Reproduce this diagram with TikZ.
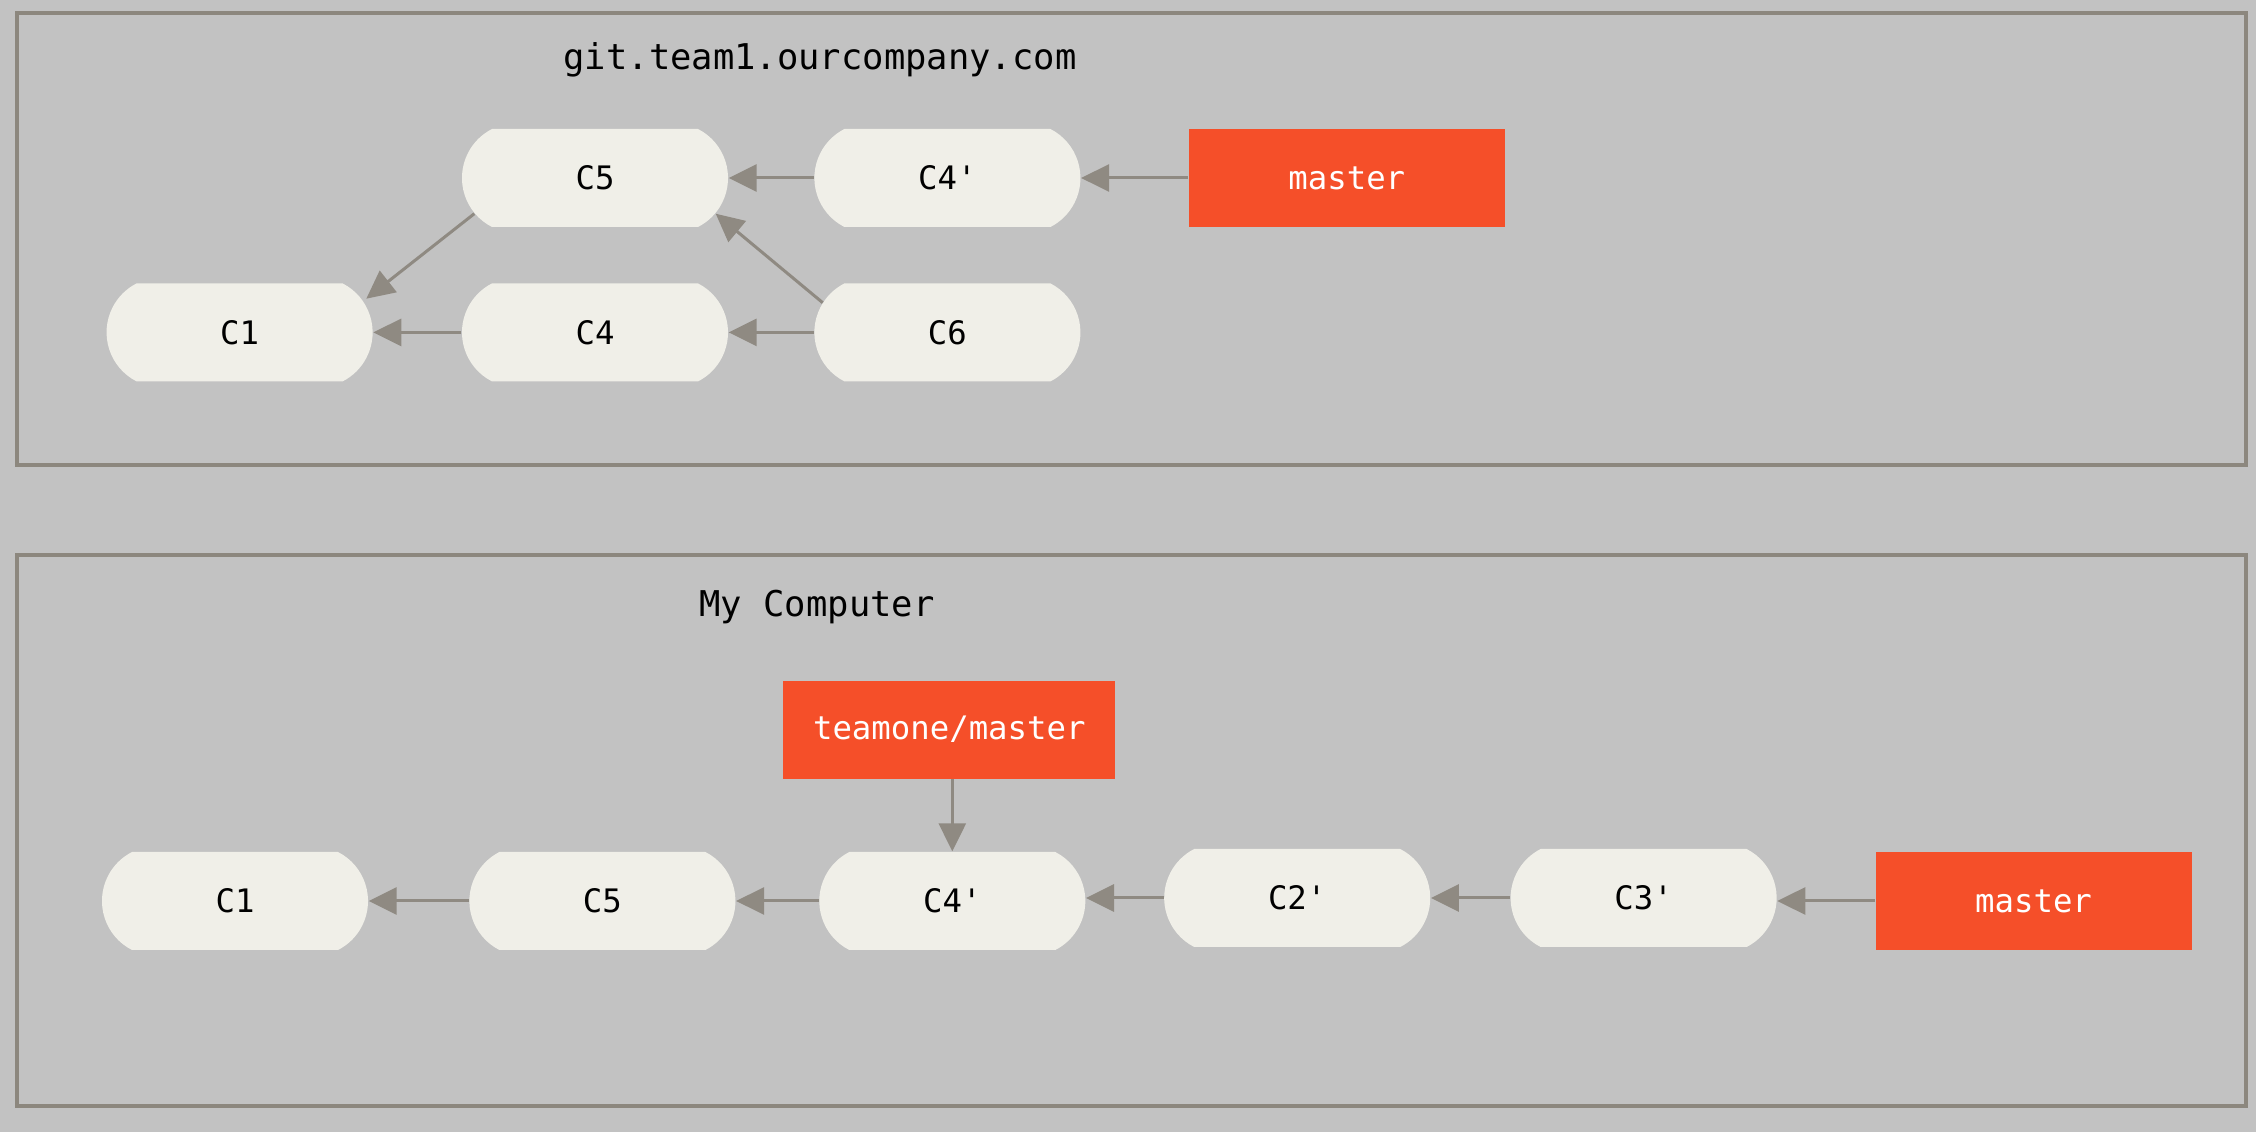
\documentclass[tikz,border=0pt]{standalone}
\usepackage{fontspec}
\setmonofont{DejaVu Sans Mono}
\usepackage{xcolor}
\usetikzlibrary{positioning,calc}
\usetikzlibrary{arrows.meta}

\definecolor{bggray}{HTML}{C2C2C2}
\definecolor{framegray}{HTML}{8C877E}
\definecolor{commitfill}{HTML}{F0EFE8}
\definecolor{refred}{HTML}{F54F29}
\definecolor{arrowgray}{HTML}{8F8A82}

\begin{document}
\begin{tikzpicture}[
	commit/.style={rectangle, minimum width=2.66cm, minimum height=0.98cm, inner sep=0pt, font=\ttfamily\fontsize{9.2}{11}\selectfont,
		path picture={\fill[commitfill] ([xshift=0.3cm]path picture bounding box.north west) -- ([xshift=-0.3cm]path picture bounding box.north east)
			arc[start angle=63, end angle=-63, radius=0.55cm] -- ([xshift=0.3cm]path picture bounding box.south west)
			arc[start angle=243, end angle=117, radius=0.55cm] -- cycle;}},
	branch/.style={rectangle, fill=refred, text=white, minimum width=3.16cm, minimum height=0.98cm, inner sep=0pt, font=\ttfamily\fontsize{9.2}{11}\selectfont},
	parent/.style={-{Triangle[length=0.28cm,width=0.27cm]}, line width=0.03cm, draw=arrowgray},
	frame/.style={draw=framegray, line width=0.04cm},
	title/.style={font=\ttfamily\fontsize{10.1}{12}\selectfont}
	]
		\useasboundingbox[fill=bggray] (0,0) rectangle (22.56,-11.32);
		
		%server
		\draw[frame] (0.17,-0.13) rectangle (22.46,-4.65);
		\node[title] (server) at (8.20,-0.60) {git.team1.ourcompany.com};
		
		\node (sc5) [commit] at (5.95,-1.78) {C5};
		\node (sc4p) [commit, right = 0.85cm of sc5] {C4'};
		\node (smaster) [branch, right = 1.07cm of sc4p] {master};
		\node (sc4) [commit, below = 0.55cm of sc5] {C4};
		\node (sc1) [commit, left = 0.88cm of sc4] {C1};
		\node (sc6) [commit, below = 0.55cm of sc4p] {C6};
		
		\draw[parent] (smaster) -- (sc4p);
		\draw[parent] (sc4p) -- (sc5);
		\draw[parent] ($(sc5.south west)+(0.13,0.14)$) -- ($(sc1.north east)+(-0.07,-0.16)$);
		\draw[parent] (sc4) -- (sc1);
		\draw[parent] (sc6) -- (sc4);
		\draw[parent] ($(sc6.north west)+(0.09,-0.2)$) -- ($(sc5.south east)+(-0.13,0.14)$);
		
		%local
		\draw[frame] (0.17,-5.55) rectangle (22.46,-11.06);
		\node[title] (local) at (8.17,-6.07) {My Computer};
		
		\node (lc1) [commit] at (2.35,-9.01) {C1};
		\node (lc5) [commit, right = 1.0cm of lc1] {C5};
		\node (lc4p) [commit, right = 0.825cm of lc5] {C4'};
		\node (lc2p) [commit, right = 0.775cm of lc4p, yshift=0.03cm] {C2'};
		\node (lc3p) [commit, right = 0.79cm of lc2p] {C3'};
		\node (lmaster) [branch, right = 0.975cm of lc3p, yshift=-0.03cm] {master};
		\node (ltm) [branch, minimum width=3.32cm, above = 0.72cm of lc4p, xshift=-0.03cm] {teamone/master};
		
		\draw[parent] (lmaster.west) -- (lmaster.west -| lc3p.east);
		\draw[parent] (lc3p) -- (lc2p);
		\draw[parent] (lc2p.west) -- (lc2p.west -| lc4p.east);
		\draw[parent] (lc4p) -- (lc5);
		\draw[parent] (lc5) -- (lc1);
		\draw[parent] (ltm.south -| lc4p.north) -- (lc4p.north);
\end{tikzpicture}
\end{document}
